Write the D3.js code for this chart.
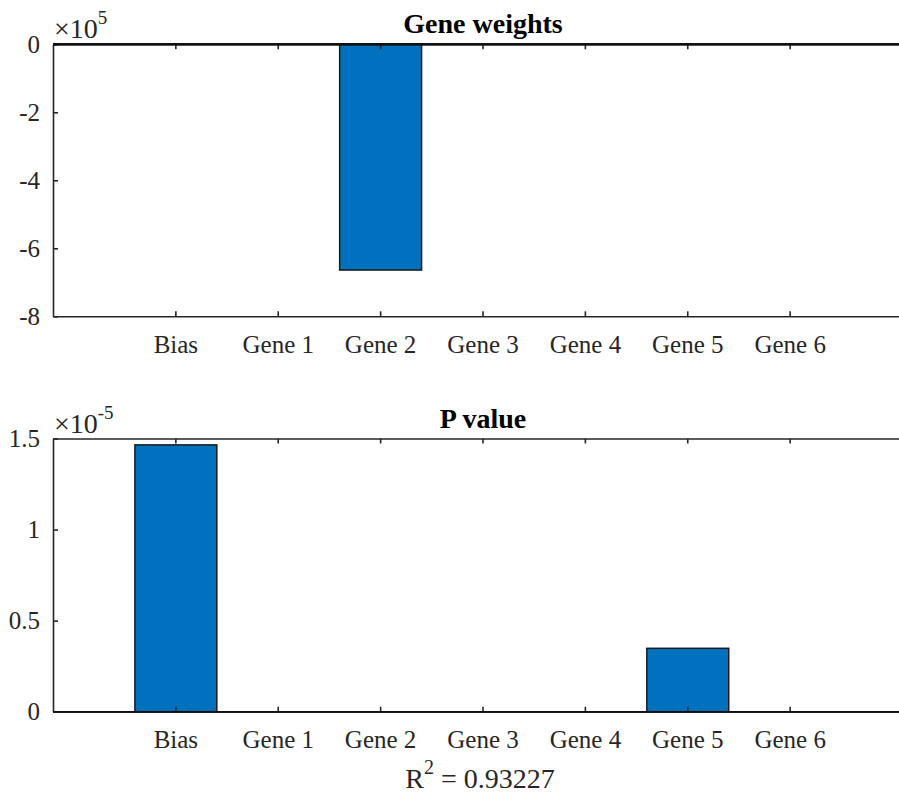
<!DOCTYPE html>
<html>
<head>
<meta charset="utf-8">
<script src="https://cdn.jsdelivr.net/npm/d3@7"></script>
<style>
  body { margin: 0; background: #fff; }
  svg text { font-family: "Liberation Serif", "Times New Roman", serif; fill: #262626; }
  .axis path, .axis line { stroke: #262626; stroke-width: 1.6; }
  .axis text { font-size: 25px; }
</style>
</head>
<body>
<div id="chart"></div>
<script>
// data
const categories = ["Bias", "Gene 1", "Gene 2", "Gene 3", "Gene 4", "Gene 5", "Gene 6"];
const geneWeights = [0, 0, -6.64e5, 0, 0, 0, 0];
const pValues = [1.465e-5, 0, 0, 0, 0, 0.348e-5, 0];
const weightTicks = [0, -2e5, -4e5, -6e5, -8e5];
const pTicks = [0, 0.5e-5, 1e-5, 1.5e-5];
const rSquared = "0.93227";

const W = 899, H = 795;
const left = 53, right = 913;

const svg = d3.select("#chart").append("svg")
    .attr("width", W)
    .attr("height", H);

const x = d3.scaleBand()
    .domain(categories)
    .range([left, right])
    .paddingInner(0.2)
    .paddingOuter(0.8);

function drawPanel(opts) {
    let g = svg.append("g");

    let y = d3.scaleLinear().domain(opts.domain).range([opts.bottom, opts.top]);

    // bars
    g.selectAll("rect.bar")
        .data(opts.values)
        .enter().append("rect")
        .attr("class", "bar")
        .attr("x", (d, i) => x(categories[i]))
        .attr("width", x.bandwidth())
        .attr("y", d => y(Math.max(0, d)))
        .attr("height", d => Math.abs(y(d) - y(0)))
        .attr("fill", "#0072BD")
        .attr("stroke", "#1a1a1a")
        .attr("stroke-width", 1.5);

    // bottom axis
    g.append("g")
        .attr("class", "axis")
        .attr("transform", `translate(0,${opts.bottom})`)
        .call(d3.axisBottom(x).tickSize(-5).tickSizeOuter(0).tickPadding(19));

    // top box line
    g.append("g")
        .attr("class", "axis")
        .attr("transform", `translate(0,${opts.top})`)
        .call(d3.axisTop(x).tickSize(-5).tickSizeOuter(0).tickFormat(""));

    // left axis (plain hyphen as minus, like the original)
    g.append("g")
        .attr("class", "axis")
        .attr("transform", `translate(${left},0)`)
        .call(d3.axisLeft(y).tickValues(opts.ticks).tickSize(-5).tickSizeOuter(0)
            .tickPadding(13).tickFormat(d => String(+(d / opts.scale).toFixed(2))));

    // baseline
    g.append("line")
        .attr("x1", left).attr("x2", right)
        .attr("y1", y(0)).attr("y2", y(0))
        .attr("stroke", "#111")
        .attr("stroke-width", opts.baselineWidth);

    // title
    g.append("text")
        .attr("x", (left + right) / 2)
        .attr("y", opts.top - 11)
        .attr("text-anchor", "middle")
        .style("font-size", "28px")
        .style("font-weight", "bold")
        .style("fill", "#000")
        .text(opts.title);

    // exponent
    let ex = g.append("text")
        .attr("x", left + 1)
        .attr("y", opts.top - 6)
        .style("font-size", "28px");
    ex.append("tspan").text("\u00d710");
    ex.append("tspan")
        .attr("dy", -14)
        .style("font-size", "19px")
        .text(opts.exponent);

    return y;
}

drawPanel({
    values: geneWeights,
    domain: [-8e5, 0],
    ticks: weightTicks,
    scale: 1e5,
    top: 44.3,
    bottom: 316.3,
    title: "Gene weights",
    exponent: "5",
    baselineWidth: 2.6
});

drawPanel({
    values: pValues,
    domain: [0, 1.5e-5],
    ticks: pTicks,
    scale: 1e-5,
    top: 438.5,
    bottom: 711.7,
    title: "P value",
    exponent: "-5",
    baselineWidth: 1.6
});

// R^2 label
let r2 = svg.append("text")
    .attr("x", (left + right) / 2 - 3)
    .attr("y", 788)
    .attr("text-anchor", "middle")
    .style("font-size", "28px");
r2.append("tspan").text("R");
r2.append("tspan").attr("dy", -14).style("font-size", "20px").text("2");
r2.append("tspan").attr("dy", 14).text(" = " + rSquared);
</script>
</body>
</html>
